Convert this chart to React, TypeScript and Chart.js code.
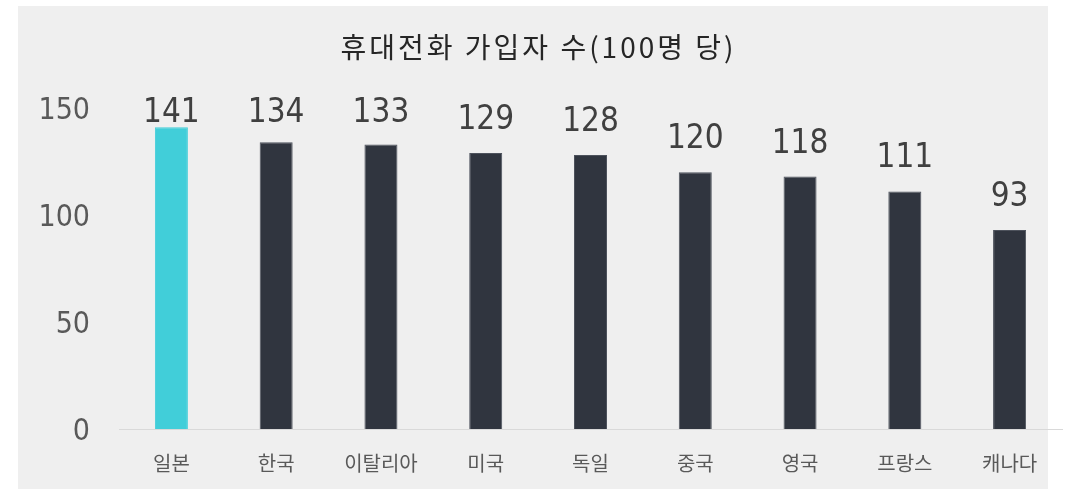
import React, { useEffect, useRef } from "react";
import { Chart, registerables } from "chart.js";

Chart.register(...registerables);

const titleText = "휴대전화 가입자 수(100명 당)";
const categories = ["일본", "한국", "이탈리아", "미국", "독일", "중국", "영국", "프랑스", "캐나다"];
const values = [141, 134, 133, 129, 128, 120, 118, 111, 93];
const yTicks = [0, 50, 100, 150];
const highlightCategory = "일본";

const NUM_FONT = "'DejaVu Sans Condensed', 'DejaVu Sans', sans-serif";
const KR_FONT = "'Noto Sans CJK KR', 'Noto Sans', sans-serif";

export default function App() {
  const ref = useRef<HTMLCanvasElement | null>(null);

  useEffect(() => {
    const canvas = ref.current;
    if (!canvas) return;

    const bgPlugin = {
      id: "bgBox",
      beforeDraw(chart: any) {
        const ctx = chart.ctx;
        ctx.save();
        ctx.fillStyle = "#efefef";
        ctx.fillRect(18, 6, 1030, 483);
        ctx.restore();
      },
    };

    const titlePlugin = {
      id: "titleText",
      afterDraw(chart: any) {
        const ctx = chart.ctx;
        ctx.save();
        ctx.font = `28px ${KR_FONT}`;
        ctx.fillStyle = "#262626";
        ctx.textAlign = "center";
        ctx.textBaseline = "middle";
        try {
          (ctx as any).letterSpacing = "3px";
        } catch (e) {}
        ctx.fillText(titleText, 538.5, 47);
        ctx.restore();
      },
    };

    const labelPlugin = {
      id: "valueLabels",
      afterDatasetsDraw(chart: any) {
        const ctx = chart.ctx;
        const meta = chart.getDatasetMeta(0);
        const size = 33;
        ctx.save();
        ctx.font = `${size}px ${NUM_FONT}`;
        ctx.fillStyle = "#404040";
        ctx.textAlign = "center";
        ctx.textBaseline = "alphabetic";
        meta.data.forEach((bar: any, i: number) => {
          const center = Math.max(bar.y - 36, 110);
          ctx.fillText(String(values[i]), bar.x, center + size * 0.3645);
        });
        ctx.restore();
      },
    };

    const chart = new Chart(canvas, {
      type: "bar",
      data: {
        labels: categories,
        datasets: [
          {
            data: values,
            backgroundColor: categories.map((c) => (c === highlightCategory ? "#41CED9" : "#30353F")),
            borderColor: categories.map((c) => (c === highlightCategory ? "#41CED9" : "#4d525c")),
            borderWidth: 1,
            barPercentage: 0.315,
            categoryPercentage: 1,
          },
        ],
      },
      options: {
        responsive: false,
        animation: false,
        layout: { padding: { top: 108, right: 7, left: 0, bottom: 0 } },
        plugins: {
          legend: { display: false },
          title: { display: false },
          tooltip: { enabled: false },
        },
        scales: {
          x: {
            grid: { display: false, drawTicks: false },
            border: { display: true, color: "#d9d9d9", width: 1 },
            ticks: {
              color: "#595959",
              font: { family: KR_FONT, size: 20 },
              padding: 22,
              maxRotation: 0,
              autoSkip: false,
            },
            afterFit(scale: any) {
              scale.height = 61;
            },
          },
          y: {
            min: 0,
            max: 150,
            grid: { display: false, drawTicks: false },
            border: { display: false },
            ticks: {
              color: "#595959",
              font: { family: NUM_FONT, size: 30 },
              padding: 29,
              labelOffset: 3,
            },
            afterBuildTicks(scale: any) {
              scale.ticks = yTicks.map((v) => ({ value: v }));
            },
            afterFit(scale: any) {
              scale.width = 119;
            },
          },
        },
      },
      plugins: [bgPlugin, labelPlugin, titlePlugin],
    });

    return () => chart.destroy();
  }, []);

  return (
    <div style={{ position: "absolute", left: 0, top: 0, width: 1069, height: 490 }}>
      <canvas ref={ref} width={1069} height={490} style={{ display: "block" }} />
    </div>
  );
}
